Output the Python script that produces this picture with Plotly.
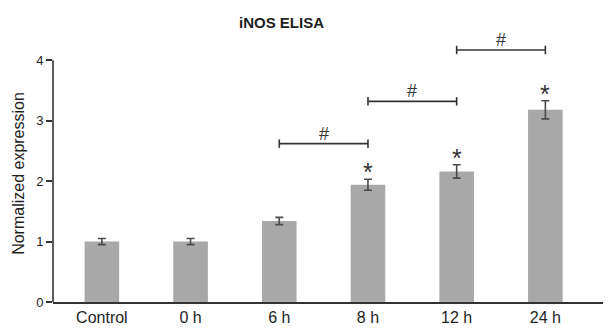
import plotly.graph_objects as go

categories = ["Control", "0 h", "6 h", "8 h", "12 h", "24 h"]
values = [1.00, 1.00, 1.34, 1.94, 2.16, 3.18]
errors = [0.05, 0.05, 0.06, 0.09, 0.11, 0.15]
star_groups = ["8 h", "12 h", "24 h"]
brackets = [("6 h", "8 h", 2.62), ("8 h", "12 h", 3.32), ("12 h", "24 h", 4.17)]
y_ticks = [0, 1, 2, 3, 4]

txt = "#1e1e1e"
fig = go.Figure()
fig.add_trace(go.Bar(
    x=categories, y=values, width=0.39,
    marker=dict(color="#a8a8a8", line=dict(width=0)),
    error_y=dict(type="data", array=errors, color="#4a4a4a", thickness=1.6, width=4),
))

idx = {c: i for i, c in enumerate(categories)}
for c in star_groups:
    i = idx[c]
    fig.add_annotation(x=c, y=values[i] + errors[i], text="*", showarrow=False,
                       yanchor="middle", yshift=7, font=dict(size=25, color="#333"))

for a, b, yv in brackets:
    x0, x1 = idx[a], idx[b]
    fig.add_shape(type="line", x0=x0, x1=x1, y0=yv, y1=yv, xref="x", yref="y",
                  line=dict(color="#333", width=1.6))
    for xv in (x0, x1):
        fig.add_shape(type="line", x0=xv, x1=xv, y0=yv - 0.07, y1=yv + 0.07,
                      xref="x", yref="y", line=dict(color="#333", width=1.6))
    fig.add_annotation(x=(x0 + x1) / 2, y=yv, text="#", showarrow=False,
                       yanchor="middle", yshift=10, font=dict(size=18, color="#333"))

# y axis line from 0 to 4
fig.add_shape(type="line", xref="paper", yref="y", x0=0, x1=0, y0=0, y1=4,
              line=dict(color="#333", width=1.6))

fig.add_annotation(xref="paper", yref="y", x=0, y=2.12, xshift=-34, xanchor="center",
                   yanchor="middle", text="Normalized expression",
                   textangle=-90, showarrow=False, font=dict(size=16, color=txt))
fig.add_annotation(xref="paper", yref="paper", x=0.409, xanchor="center", y=1,
                   yanchor="middle", yshift=5,
                   text="<b>iNOS ELISA</b>", showarrow=False, font=dict(size=15, color=txt))

# page body has an 8px margin, so figure is 8px smaller and offset accordingly
fig.update_layout(
    width=603, height=320,
    margin=dict(l=45, r=0, t=19, b=26),
    plot_bgcolor="white", paper_bgcolor="white",
    font=dict(family="Liberation Sans, Arial, sans-serif", color=txt),
    showlegend=False,
    xaxis=dict(type="category", range=[-0.551, 5.74], showline=True, linecolor="#333",
               linewidth=1.6, ticks="", tickfont=dict(size=16, color=txt), showgrid=False,
               zeroline=False, automargin=False),
    yaxis=dict(range=[0, 4.55], tickvals=y_ticks, ticks="outside", ticklen=6,
               tickcolor="#333", tickwidth=1.6, showline=False, showgrid=False,
               zeroline=False, tickfont=dict(size=13, color=txt), automargin=False),
)

fig.write_html("out.html")
